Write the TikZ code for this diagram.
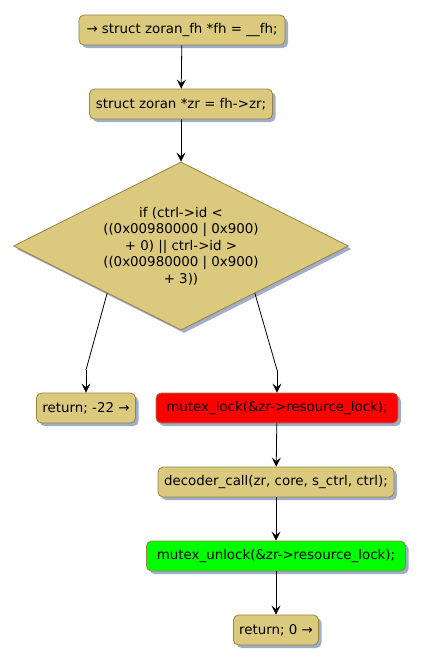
\documentclass[tikz,border=0pt]{standalone}
\usepackage{fontspec}
\setmainfont{DejaVu Sans}
\usetikzlibrary{shapes.geometric,arrows.meta,shadows,calc}
\definecolor{actfill}{RGB}{219,201,125}
\definecolor{actborder}{RGB}{152,132,64}
\definecolor{shadowc}{RGB}{160,172,205}
\tikzset{
  base/.style={draw=actborder, line width=0.8pt, fill=actfill, font=\fontsize{13.4}{16.5}\selectfont,
    drop shadow={shadow xshift=3pt, shadow yshift=-3pt, fill=shadowc, opacity=1}},
  act/.style={base, rectangle, rounded corners=5pt, minimum height=30pt, inner sep=2pt},
  cond/.style={base, diamond, aspect=2, inner sep=0pt, minimum width=335pt, minimum height=168pt, align=center},
  flow/.style={line width=0.8pt, -{Stealth[length=9pt,width=9pt,inset=3.5pt]}},
  seg/.style={line width=0.8pt}
}
\begin{document}
\begin{tikzpicture}[x=1pt,y=-1pt]
\useasboundingbox (0,0) rectangle (425,664);
\node[act, minimum width=206pt] (start) at (182,30) {→ struct zoran\_fh *fh = \_\_fh;};
\node[act, minimum width=183pt] (zr) at (181,104) {struct zoran *zr = fh->zr;};
\node[cond] (if) at (181,246) {if (ctrl->id <\\((0x00980000 | 0x900)\\+ 0) || ctrl->id >\\((0x00980000 | 0x900)\\+ 3))};
\node[act, minimum width=99pt] (ret22) at (86,408) {return; -22 →};
\node[act, minimum width=242pt, fill=red] (lock) at (277,408) {mutex\_lock(\&zr->resource\_lock);};
\node[act, minimum width=236pt] (dec) at (276,482) {decoder\_call(zr, core, s\_ctrl, ctrl);};
\node[act, minimum width=259pt, fill={rgb,255:red,0;green,255;blue,0}] (unlock) at (276,556) {mutex\_unlock(\&zr->resource\_lock);};
\node[act, minimum width=85pt] (ret0) at (276,630) {return; 0 →};

\coordinate (lbend) at (86,370);
\coordinate (rbend) at (277,370);

\draw[flow] (start) -- (zr);
\draw[flow] (zr) -- (if);
\draw[seg] ($(if.west)!0.56!(if.south)$) -- (lbend);
\draw[flow] (lbend) -- (ret22);
\draw[seg] ($(if.east)!0.56!(if.south)$) -- (rbend);
\draw[flow] (rbend) -- (lock);
\draw[flow] (lock) -- (dec);
\draw[flow] (dec) -- (unlock);
\draw[flow] (unlock) -- (ret0);
\end{tikzpicture}
\end{document}
